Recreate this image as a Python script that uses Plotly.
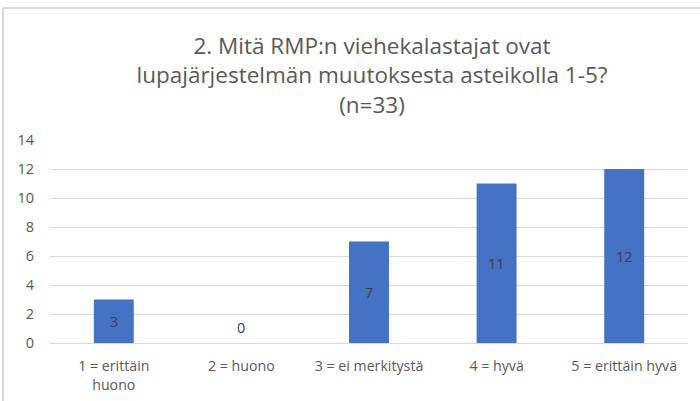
import plotly.graph_objects as go

categories = ["1 = erittäin<br>huono", "2 = huono", "3 = ei merkitystä", "4 = hyvä", "5 = erittäin hyvä"]
counts = [3, 0, 7, 11, 12]
y_ticks = [0, 2, 4, 6, 8, 10, 12, 14]

W, H = 700, 401
L, R, T, B = 50, 12, 140, 58
PW, PH = W - L - R, H - T - B
FONT = "Open Sans, Lato, sans-serif"


def px_x(x):
    return (x - L) / PW


def px_y(y):
    return (H - B - y) / PH


fig = go.Figure(
    go.Bar(
        x=categories,
        y=counts,
        marker=dict(color="#4472C4", line=dict(width=0)),
        hoverinfo="skip",
    )
)

# value labels centred in each bar; an empty bar gets its label just above the axis
for cat, v in zip(categories, counts):
    fig.add_annotation(
        x=cat, y=v / 2, text=str(v), showarrow=False,
        xref="x", yref="y",
        yshift=16 if v == 0 else 0,
        font=dict(family=FONT, size=14.5, color="#404040"),
    )

fig.update_layout(
    width=W,
    height=H,
    margin=dict(l=L, r=R, t=T, b=B),
    paper_bgcolor="white",
    plot_bgcolor="white",
    font=dict(family=FONT, color="#595959", size=14),
    bargap=0.687,
    showlegend=False,
    title=dict(
        text="2. Mitä RMP:n viehekalastajat ovat<br>lupajärjestelmän muutoksesta asteikolla 1-5?<br>(n=33)",
        font=dict(family=FONT, size=22.5, color="#595959"),
        x=px_x(372),
        xanchor="center",
        xref="paper",
        y=1 - 54 / H,
        yanchor="middle",
        yref="container",
    ),
    xaxis=dict(
        automargin=False,
        showgrid=False,
        showline=False,
        ticks="",
        ticklabelstandoff=13,
        tickfont=dict(size=14.2, color="#595959"),
        fixedrange=True,
    ),
    yaxis=dict(
        automargin=False,
        range=[0, 14],
        tickvals=y_ticks,
        showgrid=True,
        gridcolor="#D9D9D9",
        gridwidth=1,
        zeroline=True,
        zerolinecolor="#D9D9D9",
        zerolinewidth=1,
        showline=False,
        ticks="",
        ticklabelstandoff=15,
        tickfont=dict(size=14.5, color="#595959"),
        fixedrange=True,
    ),
    shapes=[
        dict(type="line", xref="paper", yref="paper",
             x0=px_x(3), x1=px_x(700), y0=px_y(8), y1=px_y(8),
             line=dict(color="#D9D9D9", width=2)),
        dict(type="line", xref="paper", yref="paper",
             x0=px_x(3), x1=px_x(3), y0=px_y(8), y1=px_y(401),
             line=dict(color="#D9D9D9", width=2)),
    ],
)

fig.write_html("out.html")
